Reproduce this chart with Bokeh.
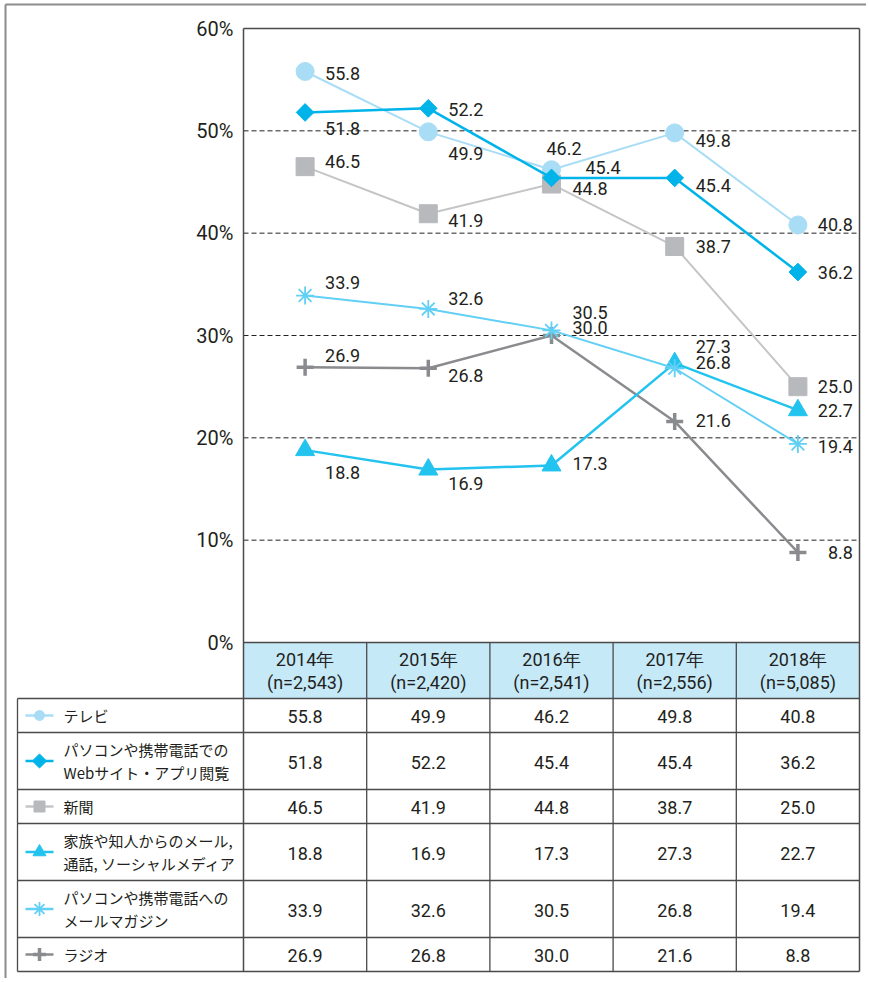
import math
from bokeh.plotting import figure
from bokeh.models import ColumnDataSource, Range1d
from bokeh.core.properties import value
from bokeh.embed import file_html
from bokeh.resources import INLINE

# ---------------- data ----------------
years = ["2014年", "2015年", "2016年", "2017年", "2018年"]
sample_n = ["(n=2,543)", "(n=2,420)", "(n=2,541)", "(n=2,556)", "(n=5,085)"]
series_names = [
    "テレビ",
    "パソコンや携帯電話での\nWebサイト・アプリ閲覧",
    "新聞",
    "家族や知人からのメール,\n通話, ソーシャルメディア",
    "パソコンや携帯電話への\nメールマガジン",
    "ラジオ",
]
tv = [55.8, 49.9, 46.2, 49.8, 40.8]
web = [51.8, 52.2, 45.4, 45.4, 36.2]
newspaper = [46.5, 41.9, 44.8, 38.7, 25.0]
family = [18.8, 16.9, 17.3, 27.3, 22.7]
mailmag = [33.9, 32.6, 30.5, 26.8, 19.4]
radio = [26.9, 26.8, 30.0, 21.6, 8.8]
y_ticks = [0, 10, 20, 30, 40, 50, 60]

series = [tv, web, newspaper, family, mailmag, radio]

# ---------------- styles / layout ----------------
TXT = "#231f20"
NUM_FONT = value("Roboto")
JP_FONT = value("Noto Sans CJK JP")
LINE_C = "#4a4a4a"
FRAME_C = "#8c8c8c"

styles = [
    dict(color="#a9ddf6", line="#a9ddf6", marker="circle", size=18, angle=0, lw=2, mlw=1, lsize=10),
    dict(color="#00b4e9", line="#00b4e9", marker="square", size=12.5, angle=math.pi / 4, lw=2.5, mlw=1, lsize=10),
    dict(color="#b8b9bd", line="#c4c5c7", marker="square", size=18, angle=0, lw=2, mlw=1, lsize=11),
    dict(color="#22c3ef", line="#22c3ef", marker="triangle", size=19, angle=0, lw=2.5, mlw=1, lsize=13),
    dict(color="#62cff4", line="#62cff4", marker="asterisk", size=18, angle=0, lw=2, mlw=1.8, lsize=14),
    dict(color="#8a8b8e", line="#8a8b8e", marker="cross", size=17, angle=0, lw=2.5, mlw=3.5, lsize=13),
]
draw_order = [2, 5, 0, 3, 4, 1]

# label placement (pixels, relative to point): cols 0-3 left aligned, col 4 right aligned
label_dx = [[20, 20, -5, 21], [20, 20, 34, 21], [20, 20, 21, 21],
            [20, 20, 21, 21], [20, 20, 21, 21], [20, 20, 21, 21]]
label_dy = [[2, 22, -21, 8, 0], [16, 1, -10, 8, 0], [-5, 7, 4, 0, 0],
            [22, 14, -2, -17, 0], [-13, -10, -18, -6, 3], [-12, 7, -8, -1, 0]]
LAST_DX = 55

W, H = 866, 978          # canvas size (px)
X0 = 304.6               # page x of first column centre
COL_W = 123.2            # column width (px)
Y_ZERO = 642             # page y of 0 %
PXU = 614 / 60           # px per percentage point


def tx(px):
    """page x (px) -> data x"""
    return (px - X0) / COL_W


def ty(py):
    """page y (px) -> data y"""
    return (Y_ZERO - py) / PXU


xs = list(range(len(years)))
Y_TOP = max(y_ticks)

p = figure(width=W, height=H, x_range=Range1d(tx(0), tx(W)), y_range=Range1d(ty(H), ty(0)),
           output_backend="svg", toolbar_location=None, x_axis_location=None,
           y_axis_location=None, min_border=0)
p.outline_line_color = None
p.grid.visible = False
p.background_fill_color = "white"
p.border_fill_color = "white"

# outer frame (top + left)
p.segment(x0=[tx(5), tx(5)], y0=[ty(4), ty(4)], x1=[tx(W), tx(5)], y1=[ty(4), ty(H)],
          line_color=FRAME_C, line_width=2)

# table geometry (page y)
row_edges = [642, 698, 732, 789, 823, 880, 937, 971]
TABLE_LEFT = 17

# header background
p.quad(left=[-0.5], right=[4.5], top=[ty(row_edges[0])], bottom=[ty(row_edges[1])],
       fill_color="#c6e9f8", line_color=None)

# dashed gridlines
grid_y = [v for v in y_ticks if 0 < v < Y_TOP]
p.segment(x0=[-0.5] * len(grid_y), y0=grid_y, x1=[4.5] * len(grid_y), y1=grid_y,
          line_color="#222222", line_width=1, line_dash="5 3")

# y tick labels
p.text(x=[tx(233)] * len(y_ticks), y=y_ticks, text=[f"{v}%" for v in y_ticks],
       text_font=NUM_FONT, text_font_size="20px", text_color=TXT,
       text_align="right", text_baseline="middle")

# chart border (top, left, right) and table rules
p.segment(x0=[-0.5, -0.5, 4.5], y0=[Y_TOP, Y_TOP, Y_TOP], x1=[4.5, -0.5, 4.5],
          y1=[Y_TOP, ty(row_edges[-1]), ty(row_edges[-1])], line_color=LINE_C, line_width=1.5)
hx0 = [-0.5] + [tx(TABLE_LEFT)] * (len(row_edges) - 1)
hy = [ty(r) for r in row_edges]
p.segment(x0=hx0, y0=hy, x1=[4.5] * len(hy), y1=hy, line_color=LINE_C, line_width=1.3)
vx = [tx(TABLE_LEFT)] + [c + 0.5 for c in range(len(years) - 1)]
vy0 = [ty(row_edges[1])] + [ty(row_edges[0])] * (len(years) - 1)
p.segment(x0=vx, y0=vy0, x1=vx, y1=[ty(row_edges[-1])] * len(vx), line_color=LINE_C, line_width=1.3)

# lines + markers
for i in draw_order:
    st = styles[i]
    vals = series[i]
    p.line(xs, vals, line_color=st["line"], line_width=st["lw"])
    p.scatter(xs, vals, marker=st["marker"], size=st["size"], angle=st["angle"],
              fill_color=st["color"], line_color=st["color"], line_width=st["mlw"])

# value labels on chart
for i in range(len(series)):
    vals = series[i]
    src_l = ColumnDataSource(dict(x=xs[:4], y=vals[:4], t=[f"{v:.1f}" for v in vals[:4]],
                                  dx=label_dx[i], dy=label_dy[i][:4]))
    p.text(x="x", y="y", text="t", x_offset="dx", y_offset="dy", source=src_l,
           text_font=NUM_FONT, text_font_size="18px", text_color=TXT,
           text_align="left", text_baseline="middle")
    src_r = ColumnDataSource(dict(x=xs[4:], y=vals[4:], t=[f"{v:.1f}" for v in vals[4:]],
                                  dy=label_dy[i][4:]))
    p.text(x="x", y="y", text="t", x_offset=LAST_DX, y_offset="dy", source=src_r,
           text_font=NUM_FONT, text_font_size="18px", text_color=TXT,
           text_align="right", text_baseline="middle")

# header texts
hc = (row_edges[0] + row_edges[1]) / 2
p.text(x=xs, y=[ty(hc - 11)] * len(xs), text=years, text_font=NUM_FONT, text_font_size="18px",
       text_color=TXT, text_align="center", text_baseline="middle")
p.text(x=xs, y=[ty(hc + 12)] * len(xs), text=sample_n, text_font=NUM_FONT, text_font_size="18px",
       text_color=TXT, text_align="center", text_baseline="middle")

# table rows
for i, name in enumerate(series_names):
    st = styles[i]
    rc = (row_edges[i + 1] + row_edges[i + 2]) / 2
    p.segment(x0=[tx(25)], y0=[ty(rc)], x1=[tx(53)], y1=[ty(rc)], line_color=st["line"], line_width=2.5)
    p.scatter([tx(39)], [ty(rc)], marker=st["marker"], size=st["lsize"], angle=st["angle"],
              fill_color=st["color"], line_color=st["color"], line_width=st["mlw"])
    lines = name.split("\n")
    ly = [rc] if len(lines) == 1 else [rc - 11.5, rc + 11.5]
    p.text(x=[tx(63)] * len(lines), y=[ty(v) for v in ly], text=lines, text_font=JP_FONT,
           text_font_size="15px", text_color=TXT, text_align="left", text_baseline="middle")
    p.text(x=xs, y=[ty(rc + 1)] * len(xs), text=[f"{v:.1f}" for v in series[i]], text_font=NUM_FONT,
           text_font_size="18px", text_color=TXT, text_align="center", text_baseline="middle")

open("out.html", "w").write(file_html(p, INLINE))
